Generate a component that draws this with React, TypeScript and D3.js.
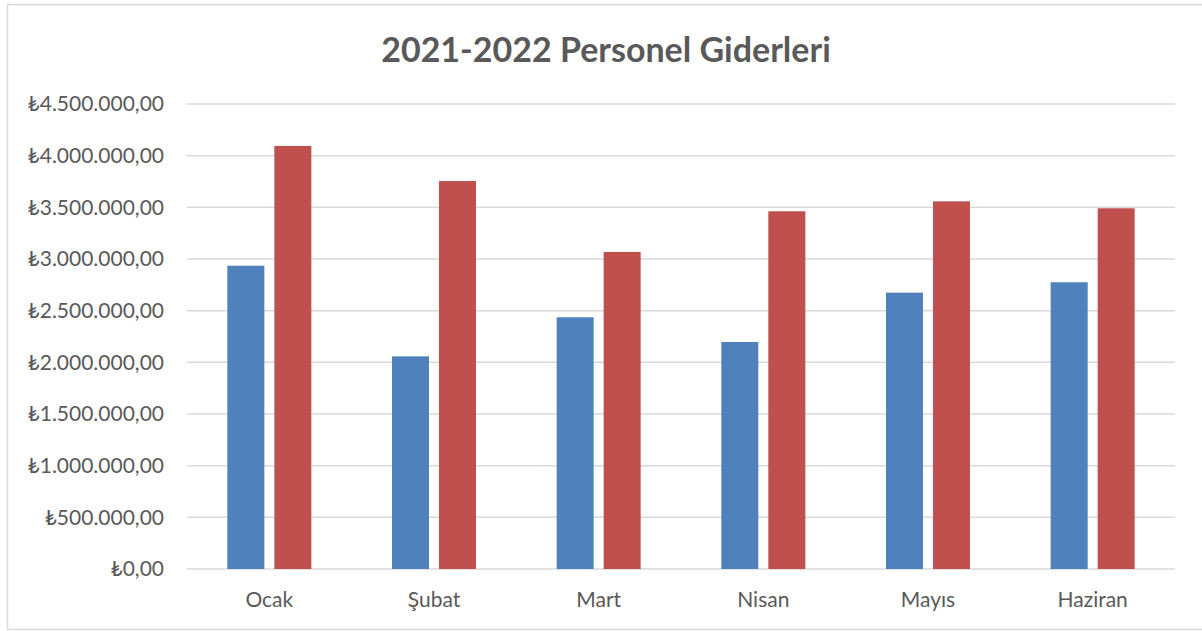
import React from "react";
import { scaleBand, scaleLinear } from "d3";

const months = ["Ocak", "Şubat", "Mart", "Nisan", "Mayıs", "Haziran"];
const series2021 = [2935000, 2058000, 2436000, 2197000, 2674000, 2775000];
const series2022 = [4094000, 3755000, 3068000, 3462000, 3558000, 3491000];
const yTicks = [0, 500000, 1000000, 1500000, 2000000, 2500000, 3000000, 3500000, 4000000, 4500000];

const W = 1202;
const H = 631;
const left = 187;
const right = 1175;
const top = 104;
const bottom = 569;
const font = "Lato, 'Noto Sans', 'DejaVu Sans', sans-serif";

const fmtTL = (v: number) => {
  const s = Math.round(v).toString().replace(/\B(?=(\d{3})+(?!\d))/g, ".");
  return "₺" + s + ",00";
};

const App = () => {
  const x = scaleBand<string>().domain(months).range([left, right]);
  const y = scaleLinear().domain([0, 4500000]).range([bottom, top]);
  const barW = 37;
  const gap = 10;

  return (
    <svg
      width={W}
      height={H}
      style={{ position: "absolute", left: 0, top: 0, background: "#fff" }}
    >
      <rect x={7.5} y={4.5} width={1200} height={625} fill="#fff" stroke="#d9d9d9" strokeWidth={1.5} />
      <text
        x={606}
        y={62}
        textAnchor="middle"
        fontFamily={font}
        fontWeight="bold"
        fontSize={34}
        fill="#595959"
      >
        2021-2022 Personel Giderleri
      </text>

      {/* grid lines + y labels */}
      {yTicks.map((t) => (
        <g key={t}>
          <line x1={left} x2={right} y1={y(t)} y2={y(t)} stroke="#d9d9d9" strokeWidth={1.5} />
          <text
            x={164}
            y={y(t)}
            dy="0.35em"
            textAnchor="end"
            fontFamily={font}
            fontSize={21}
            fill="#595959"
          >
            {fmtTL(t)}
          </text>
        </g>
      ))}

      {/* bars */}
      {months.map((m, i) => {
        const c = (x(m) as number) + x.bandwidth() / 2;
        return (
          <g key={m}>
            <rect
              x={c - gap / 2 - barW}
              y={y(series2021[i])}
              width={barW}
              height={bottom - y(series2021[i])}
              fill="#4f81bd"
            />
            <rect
              x={c + gap / 2}
              y={y(series2022[i])}
              width={barW}
              height={bottom - y(series2022[i])}
              fill="#c0504d"
            />
            <text
              x={c}
              y={607}
              textAnchor="middle"
              fontFamily={font}
              fontSize={21}
              fill="#595959"
            >
              {m}
            </text>
          </g>
        );
      })}
    </svg>
  );
};

export default App;
